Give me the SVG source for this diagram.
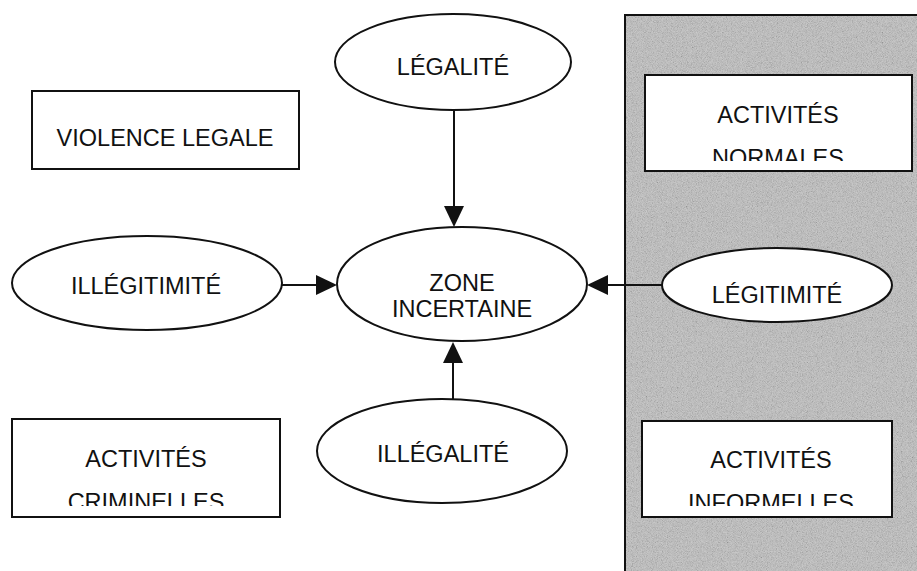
<svg xmlns="http://www.w3.org/2000/svg" width="917" height="571" viewBox="0 0 917 571">
  <style>
    .box { fill: #ffffff; stroke: #111111; stroke-width: 2; }
    .node { fill: #ffffff; stroke: #111111; stroke-width: 2; }
    .lbl { font-family: "Liberation Sans", Arial, sans-serif; font-size: 23.5px; fill: #111111; text-anchor: middle; }
    .edge { fill: none; stroke: #111111; stroke-width: 2; }
    .panel { fill: #bcbcbc; stroke: #111111; stroke-width: 2; }
  </style>
  <defs>
    <marker id="arrow" markerUnits="userSpaceOnUse" markerWidth="22" markerHeight="22" refX="0" refY="10" orient="auto" overflow="visible">
      <path d="M0,0 L21,10 L0,20 Z" fill="#111111"/>
    </marker>
    <!-- fine speckle for the shaded panel -->
    <filter id="grain" x="0" y="0" width="100%" height="100%">
      <feTurbulence type="fractalNoise" baseFrequency="1.2" numOctaves="1" seed="4" result="n"/>
      <feColorMatrix in="n" type="matrix" values="1.6 0 0 0 -0.3  1.6 0 0 0 -0.3  1.6 0 0 0 -0.3  0 0 0 0 0.22"/>
    </filter>
    <clipPath id="clipNormales"><rect x="646" y="76" width="265" height="85"/></clipPath>
    <clipPath id="clipCriminelles"><rect x="13" y="420" width="266" height="86"/></clipPath>
    <clipPath id="clipInformelles"><rect x="643" y="422" width="248" height="84"/></clipPath>
  </defs>

  <rect width="917" height="571" fill="#ffffff"/>

  <!-- shaded panel on the right -->
  <g id="panel">
    <rect class="panel" x="625" y="15" width="300" height="570"/>
    <rect x="626" y="16" width="291" height="555" fill="#808080" filter="url(#grain)"/>
  </g>

  <!-- rectangular nodes -->
  <g id="violence-legale">
    <rect class="box" x="32" y="91" width="267" height="78"/>
    <text class="lbl" x="165" y="146">VIOLENCE LEGALE</text>
  </g>

  <g id="activites-normales">
    <rect class="box" x="645" y="75" width="267" height="96"/>
    <text class="lbl" x="778" y="123">ACTIVITÉS</text>
    <text class="lbl" x="778" y="166" clip-path="url(#clipNormales)">NORMALES</text>
  </g>

  <g id="activites-criminelles">
    <rect class="box" x="12" y="419" width="268" height="98"/>
    <text class="lbl" x="146" y="467">ACTIVITÉS</text>
    <text class="lbl" x="146" y="510" clip-path="url(#clipCriminelles)">CRIMINELLES</text>
  </g>

  <g id="activites-informelles">
    <rect class="box" x="642" y="421" width="250" height="96"/>
    <text class="lbl" x="771" y="468">ACTIVITÉS</text>
    <text class="lbl" x="771" y="511" clip-path="url(#clipInformelles)">INFORMELLES</text>
  </g>

  <!-- connectors -->
  <g id="connectors">
    <line class="edge" x1="454" y1="110" x2="454" y2="206" marker-end="url(#arrow)"/>
    <line class="edge" x1="282" y1="285" x2="316" y2="285" marker-end="url(#arrow)"/>
    <line class="edge" x1="663" y1="285" x2="608" y2="285" marker-end="url(#arrow)"/>
    <line class="edge" x1="453" y1="399" x2="453" y2="363" marker-end="url(#arrow)"/>
  </g>

  <!-- elliptical nodes -->
  <g id="legalite">
    <ellipse class="node" cx="453" cy="62" rx="118" ry="48"/>
    <text class="lbl" x="453" y="75">LÉGALITÉ</text>
  </g>

  <g id="zone-incertaine">
    <ellipse class="node" cx="462" cy="284" rx="125" ry="57"/>
    <text class="lbl" x="462" y="291">ZONE</text>
    <text class="lbl" x="462" y="317">INCERTAINE</text>
  </g>

  <g id="illegitimite">
    <ellipse class="node" cx="147" cy="283" rx="135" ry="47"/>
    <text class="lbl" x="146" y="294">ILLÉGITIMITÉ</text>
  </g>

  <g id="legitimite">
    <ellipse class="node" cx="777" cy="285" rx="115" ry="37"/>
    <text class="lbl" x="777" y="303">LÉGITIMITÉ</text>
  </g>

  <g id="illegalite">
    <ellipse class="node" cx="442" cy="451" rx="125" ry="52"/>
    <text class="lbl" x="443" y="462">ILLÉGALITÉ</text>
  </g>
</svg>
